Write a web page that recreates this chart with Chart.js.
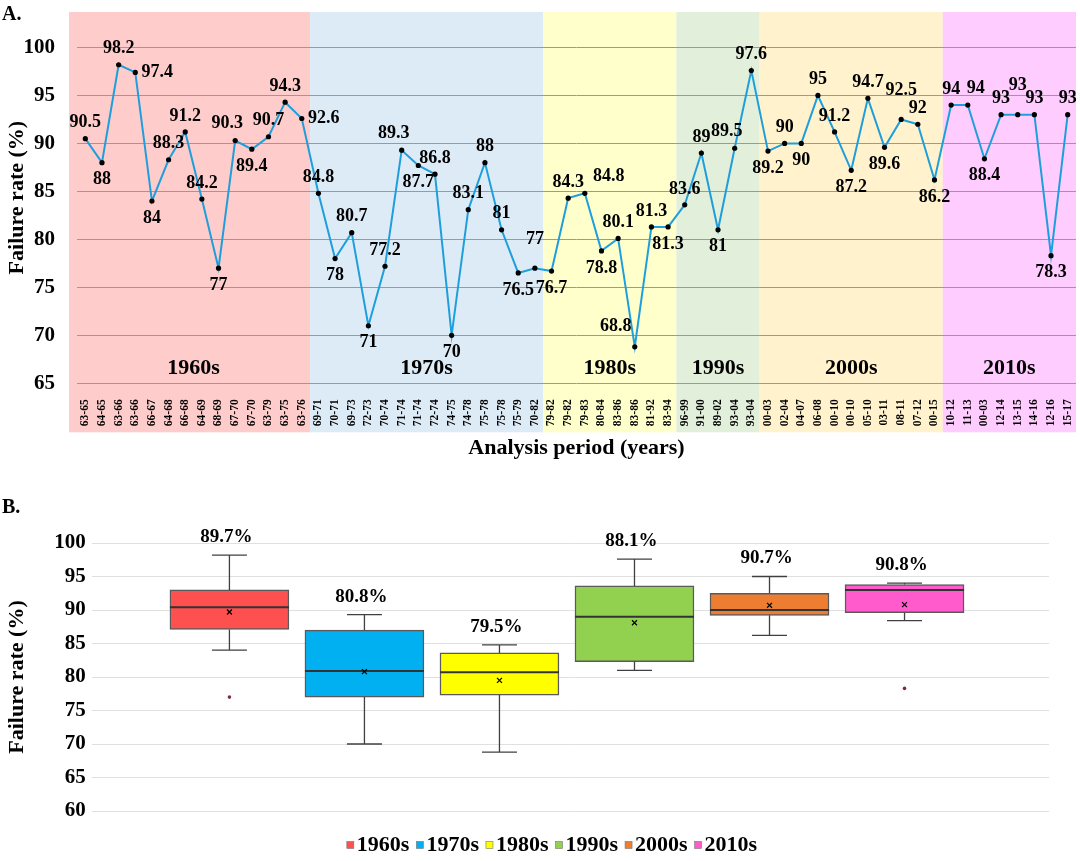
<!DOCTYPE html>
<html>
<head>
<meta charset="utf-8">
<script src="https://cdn.jsdelivr.net/npm/chart.js@4.4.1/dist/chart.umd.min.js"></script>
<style>
  html, body { margin: 0; padding: 0; background: #fff; }
  #wrapA { position: absolute; left: 0; top: 0; width: 1080px; height: 466px; }
  #wrapB { position: absolute; left: 0; top: 470px; width: 1080px; height: 391px; }
</style>
</head>
<body>
<div id="wrapA"><canvas id="chartA" width="1080" height="466"></canvas></div>
<div id="wrapB"><canvas id="chartB" width="1080" height="391"></canvas></div>
<script>
// ---- data (panel A) ----
const periods = [
  '63-65','64-65','63-66','63-66','66-67','64-68','66-68','64-69','68-69','67-70','67-70','63-79','63-75','63-76',
  '69-71','70-71','69-73','72-73','70-74','71-74','71-74','72-74','74-75','74-78','75-78','75-78','75-79','70-82',
  '79-82','79-82','79-83','80-84','83-86','83-86','81-92','83-94',
  '96-99','91-00','89-02','93-04','93-04',
  '00-03','02-04','04-07','06-08','00-10','00-10','05-10','03-11','08-11','07-12','00-15',
  '10-12','11-13','00-03','12-14','13-15','14-16','12-16','15-17'
];
const failureRates = [
  90.5, 88, 98.2, 97.4, 84, 88.3, 91.2, 84.2, 77, 90.3, 89.4, 90.7, 94.3, 92.6,
  84.8, 78, 80.7, 71, 77.2, 89.3, 87.7, 86.8, 70, 83.1, 88, 81, 76.5, 77,
  76.7, 84.3, 84.8, 78.8, 80.1, 68.8, 81.3, 81.3,
  83.6, 89, 81, 89.5, 97.6,
  89.2, 90, 90, 95, 91.2, 87.2, 94.7, 89.6, 92.5, 92, 86.2,
  94, 94, 88.4, 93, 93, 93, 78.3, 93
];
const decades = ['1960s', '1970s', '1980s', '1990s', '2000s', '2010s'];
const periodsPerDecade = [14, 14, 8, 5, 11, 8];

// where each value label sits relative to its point
const labelPlace = [
  'a','b','a','r','b','a','a','a','b','al2','b','a','a','r',
  'a','b','a','b','a','al2','b','a','b','a','a','a','b','A',
  'b','a','ar','b','a','al','a','b',
  'a','a','b','al2','a',
  'b','a','b','a','a','b','a','b','A','a','b',
  'a','ar2','b','a','A','a','b','a'
];

// ---- data (panel B) ----
const boxMin    = [84.0, 70.0, 68.8, 81.0, 86.2, 88.4];
const boxQ1     = [87.1, 77.0, 77.3, 82.3, 89.2, 89.6];
const boxMedian = [90.4, 80.9, 80.7, 89.0, 90.0, 93.0];
const boxQ3     = [93.0, 87.0, 83.6, 93.6, 92.5, 93.8];
const boxMax    = [98.2, 89.3, 84.8, 97.6, 95.0, 94.0];
const boxMean   = [89.7, 80.8, 79.5, 88.1, 90.7, 90.8];
const outlierDecade = [0, 5];
const outlierValue  = [77, 78.3];

const bandColors = ['#FFCCCC', '#DDEBF7', '#FFFFCC', '#E2EFDA', '#FFF2CC', '#FFCCFF'];
const boxColors  = ['#FF5050', '#00B0F0', '#FFFF00', '#92D050', '#ED7D31', '#FF5BCD'];

const SERIF = '"Liberation Serif", "Times New Roman", serif';
Chart.defaults.font.family = SERIF;
Chart.defaults.color = '#000';

const offsets = {
  a: [0, -16], b: [0, 17], r: [22, 0], ar: [24, -17], al: [-19, -20], A: [0, -29],
  al2: [-8, -17], ar2: [8, -17]
};

// decade bands behind the line chart, plus decade names
const bandsPlugin = {
  id: 'bands',
  beforeDraw(chart) {
    const { ctx, chartArea, scales: { x } } = chart;
    const bottom = chartArea.bottom + 49;
    let start = 0;
    ctx.save();
    periodsPerDecade.forEach((n, i) => {
      let x0 = x.getPixelForValue(start - 0.5);
      const x1 = x.getPixelForValue(start + n - 0.5);
      if (i === 0) x0 -= 8;
      ctx.fillStyle = bandColors[i];
      ctx.fillRect(x0, chartArea.top, x1 - x0, bottom - chartArea.top);
      start += n;
    });
    ctx.fillStyle = '#000';
    ctx.font = 'bold 20px ' + SERIF;
    ctx.textAlign = 'left';
    ctx.textBaseline = 'middle';
    ctx.fillText('A.', 2, 15);
    ctx.restore();
  },
  beforeDatasetsDraw(chart) {
    const { ctx, scales: { x, y } } = chart;
    let start = 0;
    ctx.save();
    ctx.fillStyle = '#000';
    ctx.font = 'bold 22px ' + SERIF;
    ctx.textAlign = 'center';
    ctx.textBaseline = 'middle';
    periodsPerDecade.forEach((n, i) => {
      const cx = (x.getPixelForValue(start - 0.5) + x.getPixelForValue(start + n - 0.5)) / 2;
      ctx.fillText(decades[i], cx, y.getPixelForValue(66.6));
      start += n;
    });
    ctx.restore();
  },
  afterDatasetsDraw(chart) {
    const { ctx } = chart;
    const meta = chart.getDatasetMeta(0);
    ctx.save();
    ctx.fillStyle = '#000';
    ctx.font = 'bold 18px ' + SERIF;
    ctx.textAlign = 'center';
    ctx.textBaseline = 'middle';
    meta.data.forEach((pt, i) => {
      const [dx, dy] = offsets[labelPlace[i]];
      ctx.fillText(String(failureRates[i]), pt.x + dx, pt.y + dy);
    });
    ctx.restore();
  }
};

new Chart(document.getElementById('chartA'), {
  type: 'line',
  data: {
    labels: periods,
    datasets: [{
      data: failureRates,
      borderColor: '#1E9FDC',
      borderWidth: 2,
      pointRadius: 2.6,
      pointBackgroundColor: '#000',
      pointBorderWidth: 0,
      tension: 0
    }]
  },
  options: {
    responsive: false,
    animation: false,
    layout: { padding: { top: 12, right: 3.7, left: 0, bottom: 0 } },
    plugins: { legend: { display: false }, tooltip: { enabled: false } },
    scales: {
      x: {
        offset: true,
        grid: { display: false },
        border: { display: false },
        ticks: {
          autoSkip: false, minRotation: 90, maxRotation: 90, padding: 8,
          color: '#000', font: { size: 11.5, weight: 'bold' }
        },
        title: {
          display: true, text: 'Analysis period (years)', color: '#000',
          font: { size: 22, weight: 'bold' }, padding: { top: 4, bottom: 4 }
        },
        afterFit(s) { s.height = 82.7; s.paddingLeft = 0; s.paddingRight = 0; }
      },
      y: {
        min: 65,
        max: 103.7,
        grid: { color: '#9a9a9a', drawTicks: false },
        border: { display: false },
        ticks: { stepSize: 5, padding: 22, color: '#000', font: { size: 21, weight: 'bold' } },
        afterBuildTicks(s) { s.ticks = s.ticks.filter(t => t.value <= 100); },
        title: {
          display: true, text: 'Failure rate (%)', color: '#000',
          font: { size: 22, weight: 'bold' }
        },
        afterFit(s) { s.width = 77; s.paddingTop = 0; s.paddingBottom = 0; }
      }
    }
  },
  plugins: [bandsPlugin]
});

// ---- panel B: box plot ----
const boxPlugin = {
  id: 'boxParts',
  afterDatasetDraw(chart, args) {
    if (args.index !== 2) return;
    const { ctx, scales: { x, y } } = chart;
    const bars = chart.getDatasetMeta(2).data;
    ctx.save();
    decades.forEach((d, i) => {
      const cx = x.getPixelForValue(i);
      const half = bars[i].width / 2;
      const cap = 17.5;
      ctx.strokeStyle = '#404040';
      ctx.lineWidth = 1.3;
      ctx.beginPath();
      ctx.moveTo(cx, y.getPixelForValue(boxQ3[i]));
      ctx.lineTo(cx, y.getPixelForValue(boxMax[i]));
      ctx.moveTo(cx - cap, y.getPixelForValue(boxMax[i]));
      ctx.lineTo(cx + cap, y.getPixelForValue(boxMax[i]));
      ctx.moveTo(cx, y.getPixelForValue(boxQ1[i]));
      ctx.lineTo(cx, y.getPixelForValue(boxMin[i]));
      ctx.moveTo(cx - cap, y.getPixelForValue(boxMin[i]));
      ctx.lineTo(cx + cap, y.getPixelForValue(boxMin[i]));
      ctx.stroke();
      ctx.strokeStyle = '#333';
      ctx.lineWidth = 2;
      ctx.beginPath();
      ctx.moveTo(cx - half, y.getPixelForValue(boxMedian[i]));
      ctx.lineTo(cx + half, y.getPixelForValue(boxMedian[i]));
      ctx.stroke();
    });
    ctx.restore();
  },
  afterDraw(chart) {
    const { ctx, scales: { x, y } } = chart;
    ctx.save();
    ctx.fillStyle = '#000';
    ctx.textBaseline = 'middle';
    ctx.font = 'bold 20px ' + SERIF;
    ctx.textAlign = 'left';
    ctx.fillText('B.', 2, 38);

    // mean labels above each box
    ctx.font = 'bold 19px ' + SERIF;
    ctx.textAlign = 'center';
    decades.forEach((d, i) => {
      ctx.fillText(boxMean[i].toFixed(1) + '%', x.getPixelForValue(i) - 3, y.getPixelForValue(boxMax[i]) - 18);
    });

    // legend
    ctx.font = 'bold 22px ' + SERIF;
    ctx.textAlign = 'left';
    const widths = decades.map(d => ctx.measureText(d).width);
    const total = widths.reduce((s, w) => s + w + 10, 0) + 7 * (decades.length - 1);
    let lx = chart.width / 2 + 12 - total / 2;
    const ly = 375;
    decades.forEach((d, i) => {
      ctx.fillStyle = boxColors[i];
      ctx.fillRect(lx, ly - 3.5, 7, 7);
      ctx.strokeStyle = '#777';
      ctx.lineWidth = 0.6;
      ctx.strokeRect(lx, ly - 3.5, 7, 7);
      lx += 10;
      ctx.fillStyle = '#000';
      ctx.fillText(d, lx, ly);
      lx += widths[i] + 7;
    });
    ctx.restore();
  }
};

new Chart(document.getElementById('chartB'), {
  type: 'bar',
  data: {
    datasets: [
      {
        type: 'scatter',
        data: decades.map((d, i) => ({ x: i, y: boxMean[i] })),
        pointStyle: 'crossRot',
        pointRadius: 3.5,
        borderColor: '#000',
        borderWidth: 1.2,
        backgroundColor: '#000'
      },
      {
        type: 'scatter',
        data: outlierDecade.map((d, k) => ({ x: d, y: outlierValue[k] })),
        pointStyle: 'circle',
        pointRadius: 1.8,
        borderWidth: 0,
        backgroundColor: '#7B2C3B'
      },
      {
        type: 'bar',
        data: decades.map((d, i) => ({ x: i, y: [boxQ1[i], boxQ3[i]] })),
        backgroundColor: boxColors,
        borderColor: '#5a5a5a',
        borderWidth: 1.5,
        borderSkipped: false,
        barThickness: 119
      }
    ]
  },
  options: {
    responsive: false,
    animation: false,
    layout: { padding: { top: 73, right: 31, bottom: 50, left: 0 } },
    plugins: { legend: { display: false }, tooltip: { enabled: false } },
    scales: {
      x: { type: 'linear', offset: false, min: -1.02, max: 6.07, display: false },
      y: {
        min: 60,
        max: 100,
        grid: { color: '#e0e0e0', drawTicks: false },
        border: { display: false },
        ticks: { stepSize: 5, padding: 6, color: '#000', font: { size: 21, weight: 'bold' } },
        title: {
          display: true, text: 'Failure rate (%)', color: '#000',
          font: { size: 22, weight: 'bold' }
        },
        afterFit(s) { s.width = 91.7; s.paddingTop = 0; s.paddingBottom = 0; }
      }
    }
  },
  plugins: [boxPlugin]
});
</script>
</body>
</html>
